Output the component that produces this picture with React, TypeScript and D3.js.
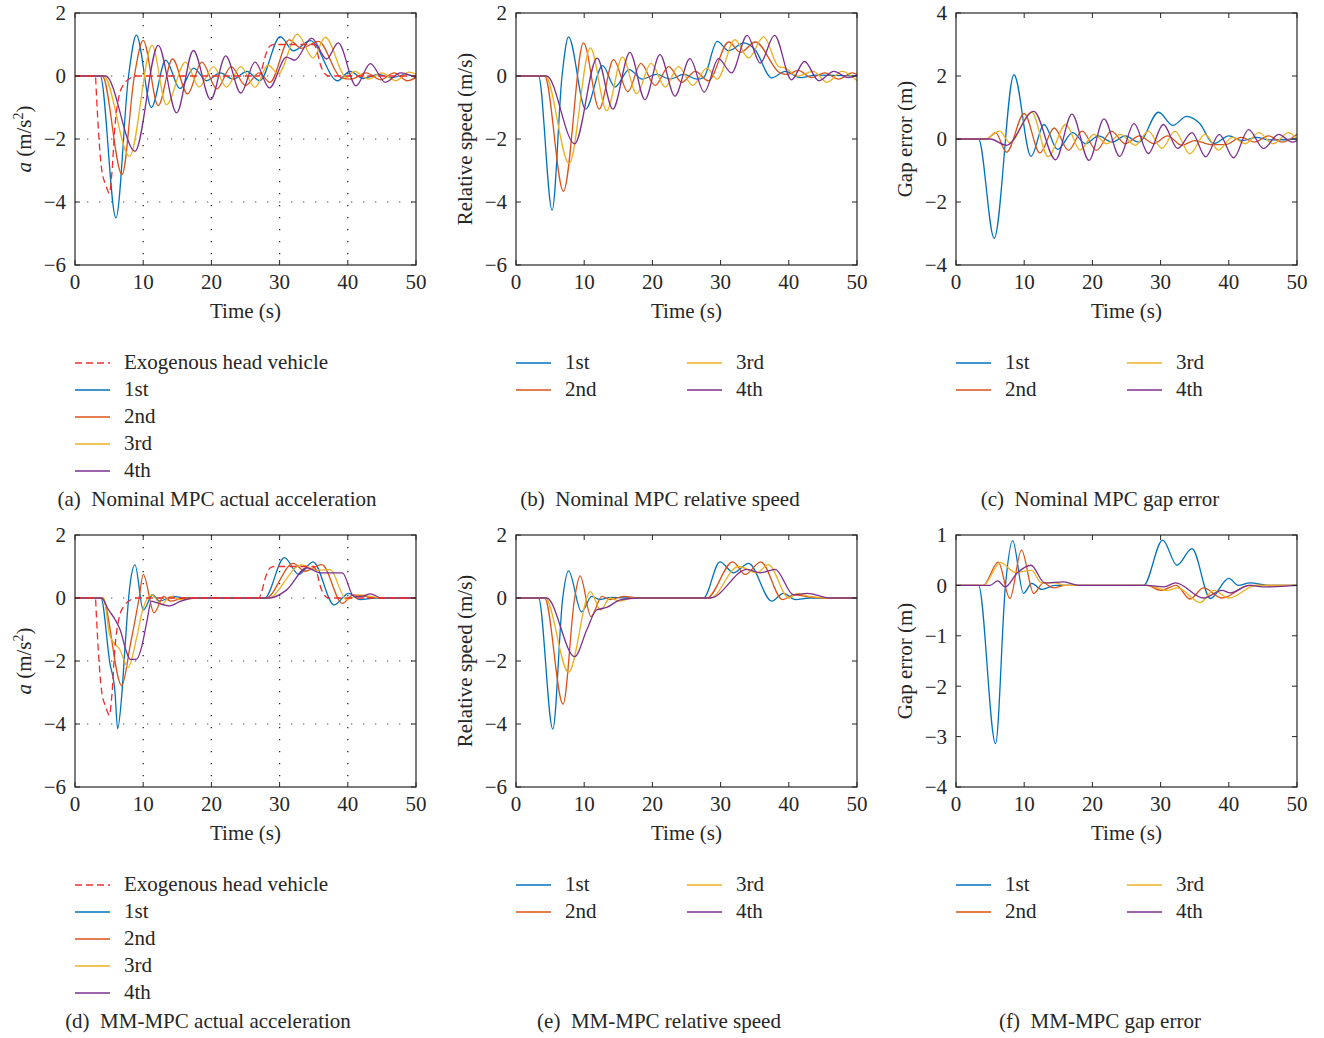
import * as d3 from "d3"

type Pt = [number, number]

const timeTicks = [0, 10, 20, 30, 40, 50]
const vehicleNames = ["1st", "2nd", "3rd", "4th"]
const vehicleColors = ["#0072bd", "#d95319", "#edb120", "#7e2f8e"]
const headName = "Exogenous head vehicle"
const headColor = "#ee2c2c"

const accelTicks = [-6, -4, -2, 0, 2]
const gapTicksNominal = [-4, -2, 0, 2, 4]
const gapTicksMM = [-4, -3, -2, -1, 0, 1]

// exogenous head vehicle acceleration (same input in (a) and (d))
const headAccel: Pt[] = [[0, 0], [3, 0], [3.1, -0.4], [3.4, -1.6], [3.9, -2.95], [4.5, -3.45], [5.05, -3.72], [5.4, -3.1], [5.85, -1.6], [6.5, -0.6], [7.2, -0.25], [8, -0.08], [9, 0], [27, 0], [27.3, 0.15], [28, 0.7], [28.6, 0.95], [29.2, 1], [35, 1], [35.4, 0.85], [36, 0.35], [36.6, 0.08], [37.2, 0], [50, 0]]

// (a) nominal MPC acceleration
const nomAccel1: Pt[] = [[0, 0], [3.7, 0], [6.0, -4.5], [7.85, 0], [9.0, 1.3], [11.2, -1.0], [13.3, 0.5], [15.4, -0.4], [17.4, 0.25], [19.3, -0.15], [21.3, 0.1], [23.2, -0.1], [25.2, 0.15], [27.1, -0.15], [30.1, 1.25], [32.0, 0.8], [34.5, 1.12], [38.5, -0.15], [40.3, 0.15], [42.3, -0.08], [44.5, 0.05], [46.5, -0.05], [48.5, 0.05], [50, -0.05]]
const nomAccel2: Pt[] = [[0, 0], [4.0, 0], [6.9, -3.13], [8.7, 0], [10.0, 1.13], [12.2, -0.94], [14.3, 0.54], [16.5, -0.57], [18.6, 0.44], [20.8, -0.41], [22.9, 0.3], [25.0, -0.3], [27.0, 0.1], [28.6, -0.2], [31.4, 1.15], [33.2, 0.88], [35.7, 1.1], [39.0, -0.05], [40.5, -0.1], [42.7, 0.1], [44.8, -0.12], [46.8, 0.1], [48.7, -0.15], [50, -0.05]]
const nomAccel3: Pt[] = [[0, 0], [4.2, 0], [8.0, -2.55], [11.3, 0.97], [13.4, -0.91], [16.2, 0.44], [18.2, -0.35], [20.3, 0.3], [22.2, -0.35], [24.3, 0.3], [26.4, -0.36], [28.3, 0.35], [29.8, 0.07], [32.6, 1.33], [34.9, 0.57], [36.7, 1.23], [39.8, -0.05], [41.0, 0.15], [43.0, -0.1], [45.0, 0.1], [47.0, -0.15], [49.0, 0.12], [50, 0.05]]
const nomAccel4: Pt[] = [[0, 0], [4.5, 0], [8.8, -2.39], [12.2, 0.97], [14.9, -1.17], [17.35, 0.81], [19.9, -0.75], [22.1, 0.64], [24.3, -0.54], [26.4, 0.44], [28.5, -0.38], [31.0, 0.6], [32.2, 0.5], [34.7, 1.2], [36.9, 0.54], [38.6, 1.05], [41.2, -0.31], [43.3, 0.39], [45.5, -0.2], [47.7, 0.1], [50, -0.05]]

// (b) nominal MPC relative speed
const nomSpeed1: Pt[] = [[0, 0], [3.3, 0], [5.3, -4.26], [6.75, 0], [7.7, 1.24], [10.2, -1.05], [12.7, 0.33], [14.5, -0.35], [16.6, 0.2], [18.5, -0.1], [20.6, 0.05], [22.6, -0.1], [24.6, 0.05], [26.5, -0.1], [27.5, -0.05], [29.5, 1.1], [31.2, 0.8], [33.4, 1.05], [35.0, 0.85], [37.5, -0.06], [39.5, 0.15], [41.7, -0.05], [44, 0.03], [50, 0]]
const nomSpeed2: Pt[] = [[0, 0], [4.2, 0], [6.95, -3.66], [9.9, 1.05], [12.2, -1.05], [14.3, 0.52], [16.4, -0.5], [18.3, 0.4], [20.4, -0.3], [22.4, 0.3], [24.3, -0.2], [26.3, 0.15], [28.2, -0.15], [31.2, 1.08], [32.9, 0.75], [35.1, 1.08], [38.7, 0.1], [39.8, 0.05], [41.4, 0.18], [43.3, -0.05], [45.3, 0.1], [47.3, -0.1], [49.3, 0.1], [50, 0.05]]
const nomSpeed3: Pt[] = [[0, 0], [4.3, 0], [7.8, -2.78], [10.9, 0.89], [13.3, -1.1], [15.6, 0.6], [17.7, -0.56], [19.8, 0.4], [21.9, -0.35], [23.8, 0.3], [25.9, -0.3], [28.0, 0.25], [29.5, -0.1], [32.1, 1.15], [34.1, 0.57], [36.3, 1.24], [38.5, 0.3], [39.5, 0.25], [41.3, 0.0], [43.6, 0.15], [45.6, -0.2], [47.8, 0.15], [50, -0.15]]
const nomSpeed4: Pt[] = [[0, 0], [4.5, 0], [8.6, -2.15], [11.9, 0.57], [14.2, -1.05], [16.7, 0.75], [18.9, -0.75], [21.1, 0.68], [23.3, -0.64], [25.5, 0.55], [27.6, -0.51], [29.7, 0.55], [31.6, 0.1], [33.9, 1.29], [35.8, 0.41], [37.9, 1.29], [40.4, -0.12], [42.3, 0.46], [44.4, -0.15], [46.6, 0.15], [48.7, -0.05], [50, 0.02]]

// (c) nominal MPC gap error
const nomGap1: Pt[] = [[0, 0], [3.3, 0], [5.6, -3.15], [8.5, 2.04], [11.0, -0.55], [12.9, 0.46], [14.9, -0.33], [17.1, 0.2], [19.0, -0.15], [20.9, 0.1], [22.9, -0.1], [24.8, 0.1], [26.8, -0.1], [29.7, 0.85], [31.8, 0.43], [33.8, 0.72], [35.7, 0.5], [37.8, -0.15], [40.0, 0.1], [42.0, -0.05], [44.0, 0.05], [46, -0.03], [50, 0]]
const nomGap2: Pt[] = [[0, 0], [4.5, 0], [5.8, 0.2], [7.4, -0.42], [10.0, 0.81], [12.3, -0.44], [14.4, 0.35], [16.5, -0.36], [18.5, 0.25], [20.6, -0.36], [22.8, 0.25], [24.8, -0.15], [26.9, 0.1], [29.0, -0.15], [31.0, 0.1], [33.1, -0.2], [35.0, -0.05], [37.5, -0.18], [39.5, -0.18], [41.8, 0.05], [43.8, -0.1], [45.8, 0.1], [47.8, -0.1], [50, 0.15]]
const nomGap3: Pt[] = [[0, 0], [4.3, 0], [6.4, 0.25], [7.9, -0.12], [11.1, 0.85], [13.5, -0.56], [16.1, 0.46], [18.2, -0.35], [20.2, 0.15], [22.1, -0.15], [24.1, 0.15], [26.3, -0.2], [28.2, 0.25], [30.2, -0.3], [32.1, 0.25], [34.3, -0.47], [36.5, 0.15], [38.5, -0.35], [40.5, 0.05], [42.4, -0.15], [44.4, 0.2], [46.5, -0.15], [48.8, 0.2], [50, 0.0]]
const nomGap4: Pt[] = [[0, 0], [5.0, 0], [7.4, -0.2], [11.4, 0.88], [14.6, -0.66], [17.0, 0.79], [19.5, -0.68], [21.7, 0.64], [24.0, -0.55], [26.1, 0.49], [28.2, -0.46], [30.4, 0.46], [32.5, -0.3], [34.6, 0.2], [36.6, -0.57], [38.6, 0.15], [40.7, -0.6], [42.9, 0.3], [45.1, -0.3], [47.3, 0.15], [49.3, -0.1], [50, -0.05]]

// (d) MM-MPC acceleration
const mmAccel1: Pt[] = [[0, 0], [3.8, 0], [5.1, -2.05], [5.85, -2.95], [6.25, -4.15], [6.85, -3.1], [7.35, -1.5], [8.0, 0.3], [8.8, 1.05], [10.0, -0.38], [11.4, 0.1], [12.4, -0.1], [14.4, 0.05], [16, 0], [27.8, 0], [30.7, 1.28], [32.8, 0.75], [34.9, 1.15], [38.0, -0.22], [40.1, 0.15], [41.8, -0.05], [44, 0], [50, 0]]
const mmAccel2: Pt[] = [[0, 0], [4.0, 0], [6.85, -2.78], [8.1, -1.5], [9.4, 0], [10.0, 0.75], [11.6, -0.47], [13.0, 0.05], [14.0, -0.1], [16, 0], [28, 0], [32.0, 1.1], [33.7, 0.85], [36.2, 1.06], [39.2, -0.17], [40.8, 0.1], [42.5, 0.05], [45, 0], [50, 0]]
const mmAccel3: Pt[] = [[0, 0], [4.2, 0], [5.1, -1.2], [6.6, -1.65], [7.8, -2.2], [9.0, -1.3], [9.8, -0.48], [11.2, 0.1], [12.7, -0.2], [14.0, 0.05], [15.5, -0.05], [18, 0], [28.3, 0], [33.2, 1.05], [35.5, 0.88], [37.4, 0.9], [39.8, -0.05], [41.8, 0.1], [44, 0.03], [46, 0], [50, 0]]
const mmAccel4: Pt[] = [[0, 0], [3.9, 0], [4.9, -0.37], [5.9, -0.69], [6.6, -1.0], [7.6, -1.74], [8.1, -1.95], [9.0, -1.95], [9.8, -1.53], [10.5, -0.79], [11.2, -0.1], [12.0, -0.15], [13.9, -0.25], [15.5, -0.1], [17.5, 0], [28.5, 0], [31.0, 0.25], [34.0, 0.96], [35.9, 0.8], [39.2, 0.8], [40.9, 0.05], [42.0, 0.05], [43.3, 0.13], [45, 0], [50, 0]]

// (e) MM-MPC relative speed
const mmSpeed1: Pt[] = [[0, 0], [3.3, 0], [5.4, -4.16], [6.85, 0], [7.7, 0.86], [9.6, -0.44], [11.1, 0.05], [12.3, -0.05], [14.0, 0.02], [16, 0], [27.5, 0], [29.9, 1.15], [31.9, 0.8], [34.1, 1.1], [37.5, -0.1], [39.2, 0.15], [41.0, -0.05], [43, 0], [50, 0]]
const mmSpeed2: Pt[] = [[0, 0], [4.2, 0], [6.9, -3.37], [8.6, 0], [9.4, 0.7], [11.0, -0.59], [12.6, 0.05], [13.8, -0.05], [15.8, 0.05], [18, 0], [28, 0], [31.8, 1.15], [33.6, 0.75], [35.9, 1.15], [39.1, -0.05], [40.8, 0.1], [42.5, 0.05], [45, 0], [50, 0]]
const mmSpeed3: Pt[] = [[0, 0], [4.3, 0], [7.7, -2.36], [10.9, 0.2], [12.4, -0.38], [13.8, 0.0], [15.2, -0.1], [17, 0], [28.5, 0], [32.6, 1.0], [35.3, 0.8], [37.0, 1.06], [40.0, 0.0], [41.2, 0.15], [43, 0.05], [46, 0], [50, 0]]
const mmSpeed4: Pt[] = [[0, 0], [4.5, 0], [8.6, -1.86], [10.4, -1.0], [11.8, -0.38], [13.3, -0.3], [15.3, -0.06], [18, 0], [28.5, 0], [33.9, 0.91], [35.8, 0.8], [38.0, 0.91], [40.7, 0.1], [42.7, 0.15], [46, 0], [50, 0]]

// (f) MM-MPC gap error
const mmGap1: Pt[] = [[0, 0], [3.3, 0], [5.8, -3.14], [7.25, 0], [8.3, 0.89], [9.9, -0.16], [11.1, 0.04], [12.6, -0.08], [14.5, 0], [27.5, 0], [30.3, 0.9], [32.4, 0.4], [34.6, 0.73], [37.3, -0.26], [40.0, 0.14], [41.4, 0.0], [43.1, 0.05], [46, 0], [50, 0]]
const mmGap2: Pt[] = [[0, 0], [4.0, 0], [6.2, 0.46], [7.9, -0.26], [9.6, 0.7], [11.4, -0.16], [12.8, 0.05], [14.3, -0.05], [16, 0], [28, 0], [30.0, -0.1], [32.3, 0.0], [34.3, -0.27], [36.3, -0.05], [39.0, -0.25], [43, 0], [50, 0]]
const mmGap3: Pt[] = [[0, 0], [4.0, 0], [6.5, 0.45], [8.7, 0.26], [11.1, 0.3], [12.5, 0.05], [14.5, 0.05], [16, 0], [28, 0], [31.0, -0.1], [32.5, -0.05], [35.8, -0.34], [37.8, -0.1], [40.0, -0.25], [44, 0], [50, 0]]
const mmGap4: Pt[] = [[0, 0], [5.0, 0], [6.1, 0.09], [7.2, -0.03], [9.0, 0.25], [11.0, 0.4], [13.0, 0.05], [15.8, 0.07], [18, 0], [28, 0], [30.5, -0.03], [32.2, 0.05], [36.3, -0.25], [39.0, -0.1], [40.2, -0.15], [43, 0], [45, -0.03], [50, 0]]

const W = 1324
const H = 1038
const colX = [75, 516, 956]
const rowY = [13, 535]
const plotW = 341
const plotH = 252
const font = "'Liberation Serif', 'DejaVu Serif', serif"
const ink = "#262626"
const fs = 21

const panels = [
  { col: 0, row: 0, ticks: accelTicks, label: "accel", grid: true, head: headAccel, lines: [nomAccel1, nomAccel2, nomAccel3, nomAccel4], caption: "(a)  Nominal MPC actual acceleration", capX: 217 },
  { col: 1, row: 0, ticks: accelTicks, label: "Relative speed (m/s)", grid: false, head: null, lines: [nomSpeed1, nomSpeed2, nomSpeed3, nomSpeed4], caption: "(b)  Nominal MPC relative speed", capX: 660 },
  { col: 2, row: 0, ticks: gapTicksNominal, label: "Gap error (m)", grid: false, head: null, lines: [nomGap1, nomGap2, nomGap3, nomGap4], caption: "(c)  Nominal MPC gap error", capX: 1100 },
  { col: 0, row: 1, ticks: accelTicks, label: "accel", grid: true, head: headAccel, lines: [mmAccel1, mmAccel2, mmAccel3, mmAccel4], caption: "(d)  MM-MPC actual acceleration", capX: 208 },
  { col: 1, row: 1, ticks: accelTicks, label: "Relative speed (m/s)", grid: false, head: null, lines: [mmSpeed1, mmSpeed2, mmSpeed3, mmSpeed4], caption: "(e)  MM-MPC relative speed", capX: 659 },
  { col: 2, row: 1, ticks: gapTicksMM, label: "Gap error (m)", grid: false, head: null, lines: [mmGap1, mmGap2, mmGap3, mmGap4], caption: "(f)  MM-MPC gap error", capX: 1100 },
]

const fmt = d3.format("d")

const Panel = ({ p }: { p: (typeof panels)[number] }) => {
  const left = colX[p.col]
  const top = rowY[p.row]
  const x = d3.scaleLinear().domain([0, 50]).range([left, left + plotW])
  const y = d3
    .scaleLinear()
    .domain(d3.extent(p.ticks) as [number, number])
    .range([top + plotH, top])
  const line = d3
    .line<Pt>()
    .x(d => x(d[0]))
    .y(d => y(d[1]))
    .curve(d3.curveMonotoneX)
  const bottom = top + plotH
  const right = left + plotW
  const tk = 5

  return (
    <g>
      {p.grid && (
        <g>
          {timeTicks.slice(1, -1).map(t => (
            <line key={"gx" + t} x1={x(t)} x2={x(t)} y1={top} y2={bottom} stroke="#222" strokeWidth={1.3} strokeDasharray="1.3 10.7" />
          ))}
          {p.ticks.slice(1, -1).map(v => (
            <line key={"gy" + v} x1={left} x2={right} y1={y(v)} y2={y(v)} stroke="#888" strokeWidth={1.3} strokeDasharray="1.3 10.7" />
          ))}
        </g>
      )}
      {p.lines.map((d, i) => (
        <path key={i} d={line(d) || ""} fill="none" stroke={vehicleColors[i]} strokeWidth={1.3} />
      ))}
      {p.head && <path d={line(p.head) || ""} fill="none" stroke={headColor} strokeWidth={1.3} strokeDasharray="7 4" />}

      <rect x={left} y={top} width={plotW} height={plotH} fill="none" stroke={ink} strokeWidth={1.2} />
      {timeTicks.map(t => (
        <g key={"xt" + t}>
          <line x1={x(t)} x2={x(t)} y1={bottom} y2={bottom - tk} stroke={ink} />
          <line x1={x(t)} x2={x(t)} y1={top} y2={top + tk} stroke={ink} />
          <text x={x(t)} y={bottom + 24} textAnchor="middle" fontSize={fs} fill={ink}>
            {fmt(t)}
          </text>
        </g>
      ))}
      {p.ticks.map(v => (
        <g key={"yt" + v}>
          <line x1={left} x2={left + tk} y1={y(v)} y2={y(v)} stroke={ink} />
          <line x1={right} x2={right - tk} y1={y(v)} y2={y(v)} stroke={ink} />
          <text x={left - 9} y={y(v)} dy="0.35em" textAnchor="end" fontSize={fs} fill={ink}>
            {fmt(v)}
          </text>
        </g>
      ))}
      <text x={left + plotW / 2} y={bottom + 53} textAnchor="middle" fontSize={fs} fill={ink}>
        Time (s)
      </text>
      <text transform={`translate(${left - 44},${top + plotH / 2}) rotate(-90)`} textAnchor="middle" fontSize={fs} fill={ink}>
        {p.label === "accel" ? (
          <>
            <tspan fontStyle="italic">a</tspan>
            <tspan> (m/s</tspan>
            <tspan fontSize={14} dy={-8}>2</tspan>
            <tspan dy={8}>)</tspan>
          </>
        ) : (
          p.label
        )}
      </text>

      {/* legend */}
      {p.head ? (
        <g>
          {[headName, ...vehicleNames].map((name, i) => {
            const ly = top + 349 + i * 27
            return (
              <g key={name}>
                <line x1={left} x2={left + 35} y1={ly + 1} y2={ly + 1} stroke={i === 0 ? headColor : vehicleColors[i - 1]} strokeWidth={1.3} strokeDasharray={i === 0 ? "7 4" : undefined} />
                <text x={left + 49} y={ly} dy="0.35em" fontSize={fs} fill={ink}>
                  {name}
                </text>
              </g>
            )
          })}
        </g>
      ) : (
        <g>
          {vehicleNames.map((name, i) => {
            const lx = left + Math.floor(i / 2) * 171
            const ly = top + 349 + (i % 2) * 27
            return (
              <g key={name}>
                <line x1={lx} x2={lx + 35} y1={ly + 1} y2={ly + 1} stroke={vehicleColors[i]} strokeWidth={1.3} />
                <text x={lx + 49} y={ly} dy="0.35em" fontSize={fs} fill={ink}>
                  {name}
                </text>
              </g>
            )
          })}
        </g>
      )}
      <text x={p.capX} y={top + 486} dy="0.35em" textAnchor="middle" fontSize={fs} fill={ink} style={{ whiteSpace: "pre" }}>
        {p.caption}
      </text>
    </g>
  )
}

export default function App() {
  return (
    <svg width={W} height={H} style={{ position: "absolute", left: 0, top: 0, background: "#fff" }} fontFamily={font}>
      {panels.map((p, i) => (
        <Panel key={i} p={p} />
      ))}
    </svg>
  )
}
